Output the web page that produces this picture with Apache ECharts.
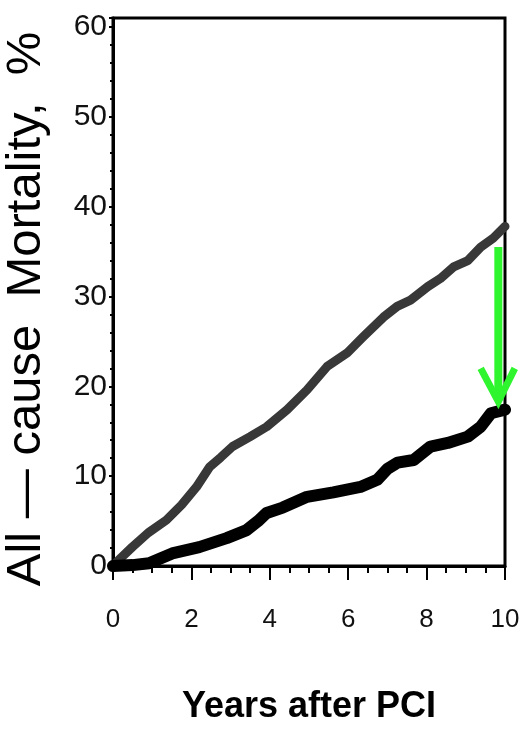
<!DOCTYPE html>
<html>
<head>
<meta charset="utf-8">
<script src="https://cdn.jsdelivr.net/npm/echarts@6/dist/echarts.min.js"></script>
<style>
  html, body { margin: 0; padding: 0; background: #fff; }
  #main { width: 529px; height: 736px; }
</style>
</head>
<body>
<div id="main"></div>
<script>
// upper curve (grey)
var greyYears = [0, 0.2, 0.49, 0.9, 1.36, 1.75, 2.13, 2.46, 2.75, 3.05, 3.5, 3.92, 4.44, 4.95, 5.46, 5.97, 6.38, 6.9, 7.25, 7.59, 8.03, 8.35, 8.69, 9.05, 9.38, 9.7, 10];
var greyMort  = [0, 0.9, 2.1, 3.7, 5.1, 6.8, 8.8, 11.0, 12.1, 13.3, 14.4, 15.5, 17.4, 19.6, 22.2, 23.7, 25.5, 27.7, 28.9, 29.6, 31.1, 32.0, 33.3, 34.0, 35.5, 36.5, 37.8];

// lower curve (black)
var blackYears = [0, 0.5, 0.92, 1.51, 2.2, 2.9, 3.41, 3.7, 3.92, 4.33, 4.95, 5.62, 6.31, 6.74, 7.0, 7.26, 7.67, 8.1, 8.54, 9.05, 9.38, 9.64, 10];
var blackMort  = [0, 0.1, 0.3, 1.4, 2.1, 3.1, 4.0, 5.0, 5.9, 6.5, 7.7, 8.2, 8.8, 9.6, 10.8, 11.5, 11.8, 13.3, 13.7, 14.4, 15.5, 17.0, 17.4];

// green arrow
var arrowShaftX = [9.83, 9.83];
var arrowShaftY = [35.5, 18.8];
var arrowHeadX = [9.38, 9.83, 10.25];
var arrowHeadY = [22.0, 18.3, 22.0];

var xTicks = [0, 2, 4, 6, 8, 10];
var yTicks = [0, 10, 20, 30, 40, 50, 60];

function pairs(xs, ys) {
  var out = [];
  for (var i = 0; i < xs.length; i++) {
    out.push([xs[i], ys[i]]);
  }
  return out;
}

// draws a polyline through all points of the series (used for the arrow)
function polylineItem(width) {
  return function (params, api) {
    if (params.dataIndex !== 0) return null;
    var pts = [];
    var n = params.dataInsideLength;
    for (var i = 0; i < n; i++) {
      pts.push(api.coord([api.value(0, i), api.value(1, i)]));
    }
    return {
      type: 'polyline',
      shape: { points: pts },
      style: { stroke: '#2ef52e', lineWidth: width, fill: null, lineJoin: 'miter', lineCap: 'butt' }
    };
  };
}

var chart = echarts.init(document.getElementById('main'));

var option = {
  animation: false,
  backgroundColor: '#fff',
  grid: {
    left: 113,
    right: 24,
    top: 18,
    bottom: 170,
    outerBoundsMode: 'none',
    show: true,
    borderColor: '#000',
    borderWidth: 3
  },
  xAxis: {
    type: 'value',
    min: 0,
    max: 10,
    interval: 2,
    name: 'Years after PCI',
    nameLocation: 'middle',
    nameGap: 123,
    nameTextStyle: {
      fontFamily: 'Liberation Sans, Arial, sans-serif',
      fontWeight: 'bold',
      fontSize: 36,
      color: '#000'
    },
    axisLine: { lineStyle: { color: '#000', width: 3 } },
    axisTick: { show: true, length: 14, lineStyle: { color: '#000', width: 2 } },
    minorTick: { show: true, splitNumber: 4, length: 7, lineStyle: { color: '#000', width: 2 } },
    splitLine: { show: false },
    axisLabel: {
      margin: 41,
      fontFamily: 'Liberation Sans, Arial, sans-serif',
      fontSize: 26,
      color: '#111',
      formatter: function (v) {
        return xTicks.indexOf(v) >= 0 ? String(v) : '';
      }
    }
  },
  yAxis: {
    type: 'value',
    min: 0,
    max: 61,
    interval: 10,
    name: 'All — cause  Mortality,  %',
    nameLocation: 'middle',
    nameRotate: 90,
    nameGap: 62,
    nameTextStyle: {
      fontFamily: 'Liberation Sans, Arial, sans-serif',
      fontSize: 49,
      color: '#000',
      padding: [0, 34, 0, 0]
    },
    axisLine: { lineStyle: { color: '#000', width: 3 } },
    axisTick: { show: true, length: 4, lineStyle: { color: '#000', width: 2 } },
    minorTick: { show: true, splitNumber: 5, length: 3, lineStyle: { color: '#000', width: 2 } },
    splitLine: { show: false },
    axisLabel: {
      margin: 6,
      fontFamily: 'Liberation Sans, Arial, sans-serif',
      fontSize: 30,
      color: '#111',
      formatter: function (v) {
        return yTicks.indexOf(v) >= 0 ? String(v) : '';
      }
    }
  },
  series: [
    {
      name: 'grey',
      type: 'line',
      data: pairs(greyYears, greyMort),
      showSymbol: false,
      smooth: false,
      lineStyle: { color: '#383838', width: 9, cap: 'round', join: 'round' },
      z: 2
    },
    {
      name: 'black',
      type: 'line',
      data: pairs(blackYears, blackMort),
      showSymbol: false,
      smooth: false,
      lineStyle: { color: '#000', width: 12, cap: 'round', join: 'round' },
      z: 3
    },
    {
      name: 'arrowShaft',
      type: 'custom',
      renderItem: polylineItem(8),
      data: pairs(arrowShaftX, arrowShaftY),
      clip: false,
      silent: true,
      z: 4
    },
    {
      name: 'arrowHead',
      type: 'custom',
      renderItem: polylineItem(7),
      data: pairs(arrowHeadX, arrowHeadY),
      clip: false,
      silent: true,
      z: 4
    }
  ]
};

chart.setOption(option);
</script>
</body>
</html>
